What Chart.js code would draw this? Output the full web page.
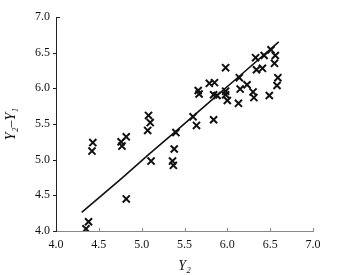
<!DOCTYPE html>
<html><head><meta charset="utf-8">
<script src="https://cdn.jsdelivr.net/npm/chart.js@4"></script>
<style>html,body{margin:0;padding:0;background:#fff}#wrap{width:340px;height:275px}</style>
</head><body><div id="wrap"><canvas id="c" width="340" height="275"></canvas></div>
<script>
const obsX = [4.35,4.38,4.42,4.43,4.76,4.77,4.82,4.82,5.07,5.08,5.10,5.11,5.36,5.37,5.38,5.40,5.60,5.64,5.66,5.67,5.79,5.85,5.84,5.84,5.88,5.98,5.98,5.98,6.00,6.13,6.14,6.15,6.23,6.30,6.31,6.33,6.34,6.41,6.43,6.51,6.49,6.56,6.55,6.58,6.59];
const obsY = [4.03,4.13,5.12,5.24,5.25,5.19,5.32,4.45,5.41,5.62,5.52,4.98,4.98,4.92,5.15,5.38,5.60,5.48,5.97,5.92,6.07,6.08,5.56,5.91,5.90,6.29,5.96,5.91,5.83,5.79,6.15,5.99,6.05,5.95,5.87,6.43,6.26,6.28,6.46,6.54,5.90,6.46,6.35,6.04,6.15];
const fitX = [4.30,4.77,5.08,5.39,5.85,6.15,6.60];
const fitY = [4.26,4.74,5.07,5.39,5.87,6.18,6.65];
const xTicks = [4.0,4.5,5.0,5.5,6.0,6.5,7.0];
const yTicks = [4.0,4.5,5.0,5.5,6.0,6.5,7.0];
const xTitle = 'Y₂';
const yTitle = 'Y₂–Y₁';

const fam = '"Liberation Serif", "Times New Roman", serif';
const font = {family:fam, size:12};
const axisMarks = {
  id:'axisMarks',
  afterDraw(chart){
    const ctx = chart.ctx, xs = chart.scales.x, ys = chart.scales.y, a = chart.chartArea;
    ctx.save();
    ctx.lineWidth = 1;
    ctx.strokeStyle = '#888';
    ctx.beginPath();
    ctx.moveTo(a.left, a.bottom+0.5); ctx.lineTo(a.right+1, a.bottom+0.5);
    xTicks.forEach(v=>{const p=Math.round(xs.getPixelForValue(v))+0.5; ctx.moveTo(p,a.bottom); ctx.lineTo(p,a.bottom-3);});
    ctx.stroke();
    ctx.strokeStyle = '#222';
    ctx.beginPath();
    ctx.moveTo(a.left+0.5, a.top); ctx.lineTo(a.left+0.5, a.bottom+1);
    yTicks.forEach(v=>{const p=Math.round(ys.getPixelForValue(v))+0.5;
      if (v===yTicks[yTicks.length-1]) { ctx.moveTo(a.left,p); ctx.lineTo(a.left+4,p); }
      else { ctx.moveTo(a.left,p); ctx.lineTo(a.left-3,p); }});
    ctx.stroke();
    ctx.restore();
  }
};
new Chart(document.getElementById('c'), {
  data:{datasets:[
    {type:'scatter', data:obsX.map((x,i)=>({x, y:obsY[i]})), pointStyle:'crossRot', pointRadius:5, pointBorderWidth:2, borderColor:'#111', backgroundColor:'#111'},
    {type:'line', data:fitX.map((x,i)=>({x, y:fitY[i]})), borderColor:'#111', borderWidth:1.6, pointRadius:0, tension:0}
  ]},
  options:{
    responsive:false, animation:false, devicePixelRatio:1,
    plugins:{legend:{display:false}, tooltip:{enabled:false}},
    layout:{padding:{top:17,right:27,left:0,bottom:0}},
    scales:{
      x:{type:'linear', min:4, max:7,
        afterBuildTicks(s){s.ticks = xTicks.map(v=>({value:v}));},
        afterFit(s){s.height = 44;},
        grid:{display:false, drawTicks:false}, border:{display:false},
        ticks:{font, color:'#111', padding:7, callback:v=>v.toFixed(1), maxRotation:0},
        title:{display:true, text:xTitle, font:{family:fam, size:14, style:'italic'}, color:'#111', padding:{top:3,bottom:0}}
      },
      y:{type:'linear', min:4, max:7,
        afterBuildTicks(s){s.ticks = yTicks.map(v=>({value:v}));},
        afterFit(s){s.width = 56;},
        grid:{display:false, drawTicks:false}, border:{display:false},
        ticks:{font, color:'#111', padding:6, callback:v=>v.toFixed(1)},
        title:{display:true, text:yTitle, font:{family:fam, size:14, style:'italic'}, color:'#111', padding:{top:3,bottom:4}}
      }
    }
  },
  plugins:[axisMarks]
});
</script></body></html>
